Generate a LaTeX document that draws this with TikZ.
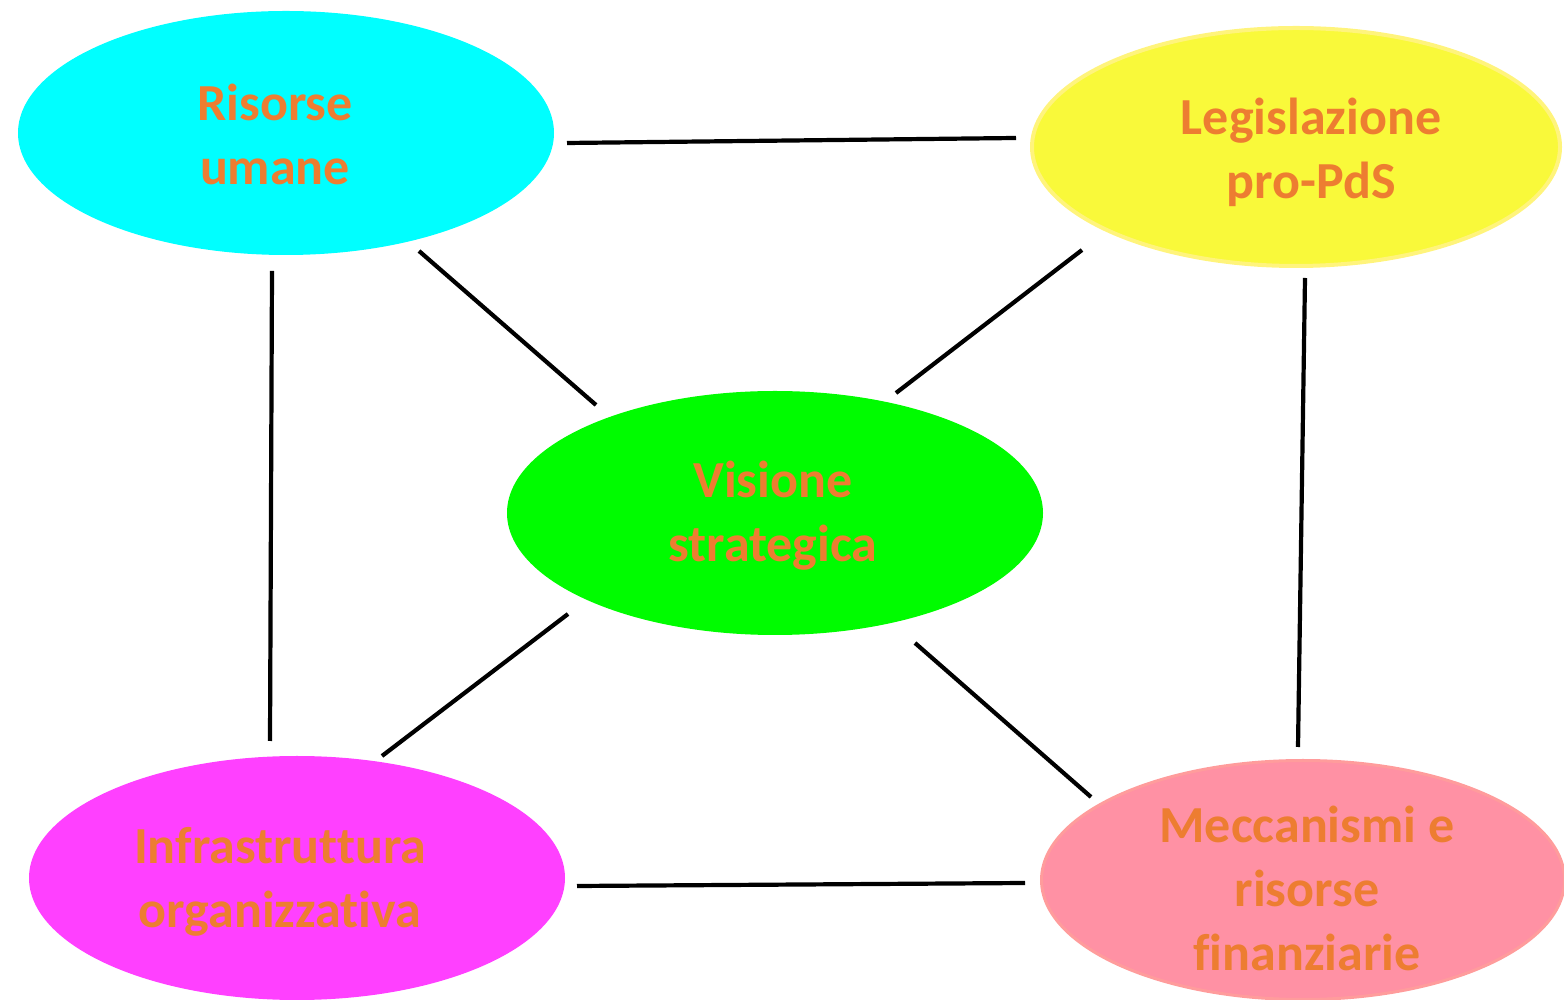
\documentclass[tikz,border=0pt]{standalone}
\usepackage{fontspec}
\setmainfont[Ligatures=NoCommon]{Carlito}
\usetikzlibrary{shapes.geometric}
\definecolor{txtor}{HTML}{ED7D31}
\definecolor{cyanf}{HTML}{00FFFF}
\definecolor{yelf}{HTML}{F9F93A}
\definecolor{yelb}{HTML}{FFF47C}
\definecolor{grnf}{HTML}{00FC00}
\definecolor{magf}{HTML}{FF40FF}
\definecolor{pinkf}{HTML}{FF91A4}
\definecolor{pinkb}{HTML}{FF9C9C}
\tikzset{
  bubble/.style={ellipse, inner sep=0pt, minimum width=536pt, minimum height=244pt},
  btext/.style={inner sep=0pt, align=center, text=txtor, font=\fontsize{52}{64}\selectfont\bfseries},
  conn/.style={line width=4.2pt, black}
}
\begin{document}
\begin{tikzpicture}[x=1pt,y=1pt]
\useasboundingbox (0,0) rectangle (1564,999);
\node[bubble, fill=cyanf] (r) at (286,866) {};
\node[bubble, fill=yelf, draw=yelb, line width=4pt, minimum width=528pt, minimum height=238pt] (l) at (1296,852) {};
\node[bubble, fill=grnf] (v) at (775,486) {};
\node[bubble, fill=magf] (i) at (297,121) {};
\node[bubble, fill=pinkf, draw=pinkb, line width=3pt, minimum width=523pt, minimum height=239pt] (m) at (1303,119) {};
\node[btext] (rt) at ([shift={(-11,-1)}]r.center) {Risorse\\umane};
\node[btext] (lt) at ([shift={(15,-5)}]l.center) {Legislazione\\pro-PdS};
\node[btext] (vt) at ([shift={(-2,-3)}]v.center) {Visione\\strategica};
\node[btext] (it) at ([shift={(-17,-4)}]i.center) {Infrastruttura\\organizzativa};
\node[btext] (mt) at ([shift={(4,-8)}]m.center) {Meccanismi e\\risorse\\finanziarie};
\draw[conn] ([shift={(281,-10)}]r.center) -- ([shift={(-280,9)}]l.center);
\draw[conn] ([shift={(133,-118)}]r.center) -- ([shift={(-179,108)}]v.center);
\draw[conn] ([shift={(-214,-103)}]l.center) -- ([shift={(121,120)}]v.center);
\draw[conn] ([shift={(-14,-138)}]r.center) -- ([shift={(-27,137)}]i.center);
\draw[conn] ([shift={(9,-131)}]l.center) -- ([shift={(-5,133)}]m.center);
\draw[conn] ([shift={(-207,-101)}]v.center) -- ([shift={(85,122)}]i.center);
\draw[conn] ([shift={(140,-130)}]v.center) -- ([shift={(-212,83)}]m.center);
\draw[conn] ([shift={(280,-8)}]i.center) -- ([shift={(-278,-3)}]m.center);
\end{tikzpicture}
\end{document}
